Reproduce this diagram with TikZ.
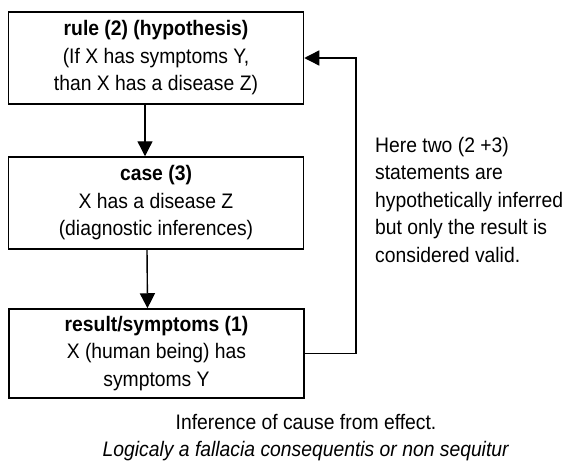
\documentclass[tikz,border=0pt]{standalone}
\usepackage{fontspec}
\setmainfont{Liberation Sans}[FakeStretch=0.92]
\usetikzlibrary{arrows.meta}
\tikzstyle{stmt}=[draw, line width=1.5pt, minimum width=295pt, minimum height=92pt, inner sep=0pt, align=center, font=\fontsize{21}{27.5}\selectfont]
\tikzstyle{link}=[line width=1.4pt, -{Triangle[length=15pt,width=15pt]}]
\tikzstyle{remark}=[inner sep=0pt, font=\fontsize{21}{27.5}\selectfont]
\begin{document}
\begin{tikzpicture}[x=1pt,y=-1pt]
	\useasboundingbox (0,0) rectangle (569,463);
	\node[stmt] (rule) at (156,58) {\textbf{rule (2) (hypothesis)}\\(If X has symptoms Y,\\than X has a disease Z)};
	\node[stmt] (case) at (156,203) {\textbf{case (3)}\\X has a disease Z\\(diagnostic inferences)};
	\node[stmt, minimum height=89pt] (result) at (156.5,353.5) {\textbf{result/symptoms (1)}\\X (human being) has\\symptoms Y};
	\draw[link] ([xshift=-11pt]rule.south) -- ([xshift=-11pt]case.north);
	\draw[link] ([xshift=-9pt]case.south) -- ([xshift=-9pt]result.north);
	% back to the rule
	\coordinate (back) at (356,0);
	\draw[link] (result.east) -- (result.east -| back) -- (rule.east -| back) -- (rule.east);
	\node[remark, anchor=north west, align=left] (note) at (375,137) {Here two (2 +3)\\statements are\\hypothetically inferred\\but only the result is\\considered valid.};
	\node[remark, anchor=north, align=center] (caption) at (306,414) {Inference of cause from effect.\\\textit{Logicaly a fallacia consequentis or non sequitur}};
\end{tikzpicture}
\end{document}
